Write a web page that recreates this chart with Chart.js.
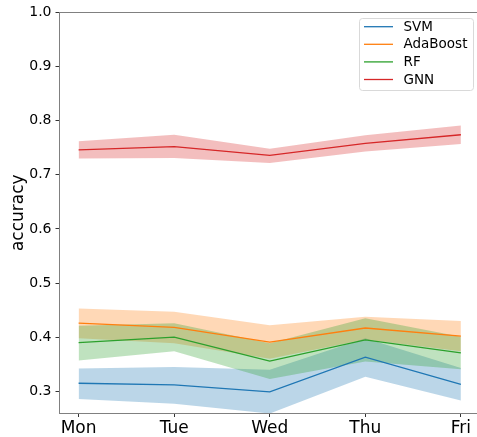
<!DOCTYPE html>
<html>
<head>
<meta charset="utf-8">
<script src="https://cdn.jsdelivr.net/npm/chart.js@4/dist/chart.umd.min.js"></script>
<style>
html,body{margin:0;padding:0;background:#fff;overflow:hidden;}
canvas{display:block;}
</style>
</head>
<body>
<canvas id="c" width="481" height="437"></canvas>
<script>
const days = ['Mon', 'Tue', 'Wed', 'Thu', 'Fri'];
const yTicks = [0.3, 0.4, 0.5, 0.6, 0.7, 0.8, 0.9, 1.0];
const seriesNames = ['SVM', 'AdaBoost', 'RF', 'GNN'];

const svmMean = [0.315, 0.312, 0.299, 0.363, 0.313];
const svmLow  = [0.286, 0.277, 0.259, 0.327, 0.283];
const svmHigh = [0.342, 0.345, 0.340, 0.398, 0.343];

const adaMean = [0.426, 0.418, 0.391, 0.417, 0.402];
const adaLow  = [0.398, 0.389, 0.360, 0.396, 0.374];
const adaHigh = [0.453, 0.447, 0.422, 0.438, 0.430];

const rfMean = [0.390, 0.400, 0.356, 0.395, 0.371];
const rfLow  = [0.357, 0.374, 0.323, 0.355, 0.341];
const rfHigh = [0.421, 0.426, 0.389, 0.435, 0.401];

const gnnMean = [0.746, 0.752, 0.736, 0.758, 0.774];
const gnnLow  = [0.730, 0.731, 0.722, 0.743, 0.757];
const gnnHigh = [0.762, 0.774, 0.748, 0.773, 0.791];

const colors = ['#1f77b4', '#ff7f0e', '#2ca02c', '#d62728'];
const bandColors = ['rgba(31,119,180,0.3)', 'rgba(255,127,14,0.3)', 'rgba(44,160,44,0.3)', 'rgba(214,39,40,0.3)'];
const means = [svmMean, adaMean, rfMean, gnnMean];
const lows = [svmLow, adaLow, rfLow, gnnLow];
const highs = [svmHigh, adaHigh, rfHigh, gnnHigh];

const toPts = arr => arr.map((v, i) => ({x: i, y: v}));

const datasets = [];
seriesNames.forEach((name, s) => {
  const lowIdx = datasets.length;
  datasets.push({
    label: name + ' low', data: toPts(lows[s]), borderColor: 'transparent', borderWidth: 0,
    pointRadius: 0, fill: false, order: 20 - s
  });
  datasets.push({
    label: name + ' high', data: toPts(highs[s]), borderColor: 'transparent', borderWidth: 0,
    pointRadius: 0, fill: {target: lowIdx}, backgroundColor: bandColors[s], order: 20 - s
  });
});
seriesNames.forEach((name, s) => {
  datasets.push({
    label: name, data: toPts(means[s]), borderColor: colors[s], borderWidth: 1.3,
    pointRadius: 0, fill: false, order: 5 - s, tension: 0
  });
});

const legendPlugin = {
  id: 'mplLegend',
  afterDraw(chart) {
    const ctx = chart.ctx;
    const x0 = 359.5, y0 = 18.5, w = 114, h = 72, r = 3;
    ctx.save();
    ctx.beginPath();
    ctx.moveTo(x0 + r, y0);
    ctx.lineTo(x0 + w - r, y0);
    ctx.quadraticCurveTo(x0 + w, y0, x0 + w, y0 + r);
    ctx.lineTo(x0 + w, y0 + h - r);
    ctx.quadraticCurveTo(x0 + w, y0 + h, x0 + w - r, y0 + h);
    ctx.lineTo(x0 + r, y0 + h);
    ctx.quadraticCurveTo(x0, y0 + h, x0, y0 + h - r);
    ctx.lineTo(x0, y0 + r);
    ctx.quadraticCurveTo(x0, y0, x0 + r, y0);
    ctx.closePath();
    ctx.fillStyle = 'rgba(255,255,255,0.8)';
    ctx.fill();
    ctx.strokeStyle = '#d9d9d9';
    ctx.lineWidth = 1;
    ctx.stroke();
    ctx.font = '13.5px "DejaVu Sans"';
    ctx.textBaseline = 'middle';
    ctx.textAlign = 'left';
    seriesNames.forEach((name, s) => {
      const yy = 26.7 + s * 17.6;
      ctx.strokeStyle = colors[s];
      ctx.lineWidth = 1.3;
      ctx.beginPath();
      ctx.moveTo(364, yy);
      ctx.lineTo(393, yy);
      ctx.stroke();
      ctx.fillStyle = '#000';
      ctx.fillText(name, 403.5, yy + 0.5);
    });
    ctx.restore();
  }
};

new Chart(document.getElementById('c'), {
  type: 'line',
  data: {datasets},
  options: {
    responsive: false,
    devicePixelRatio: 1,
    animation: false,
    layout: {padding: {top: 11.5, right: 1, left: 0, bottom: 0}},
    plugins: {
      legend: {display: false},
      tooltip: {enabled: false},
      filler: {propagate: false}
    },
    scales: {
      x: {
        type: 'linear', min: -0.2, max: 4.2,
        afterBuildTicks: sc => { sc.ticks = days.map((d, i) => ({value: i})); },
        afterFit: sc => { sc.height = 24; },
        ticks: {
          callback: v => days[v],
          font: {family: 'DejaVu Sans', size: 17},
          color: '#000', padding: 1, maxRotation: 0, autoSkip: false
        },
        grid: {drawOnChartArea: false, drawTicks: true, tickLength: 4, tickColor: '#333', tickWidth: 1},
        border: {display: true, color: '#808080', width: 1}
      },
      y: {
        type: 'linear', min: 0.26, max: 1.0,
        afterBuildTicks: sc => { sc.ticks = yTicks.map(v => ({value: v})); },
        afterFit: sc => { sc.width = 59.5; },
        ticks: {
          callback: v => v.toFixed(1),
          font: {family: 'DejaVu Sans', size: 14},
          color: '#000', padding: 4
        },
        title: {
          display: true, text: 'accuracy',
          font: {family: 'DejaVu Sans', size: 17},
          color: '#000', padding: {top: 8, bottom: 0}
        },
        grid: {drawOnChartArea: false, drawTicks: true, tickLength: 4, tickColor: '#333', tickWidth: 1},
        border: {display: true, color: '#808080', width: 1}
      }
    }
  },
  plugins: [legendPlugin, {
    id: 'topSpine',
    afterDraw(chart) {
      const a = chart.chartArea, ctx = chart.ctx;
      ctx.save();
      ctx.strokeStyle = '#808080';
      ctx.lineWidth = 1;
      ctx.beginPath();
      ctx.moveTo(a.left, Math.round(a.top) + 0.5);
      ctx.lineTo(a.right, Math.round(a.top) + 0.5);
      ctx.moveTo(Math.round(a.right) - 0.5, a.top);
      ctx.lineTo(Math.round(a.right) - 0.5, a.bottom);
      ctx.stroke();
      ctx.restore();
    }
  }]
});
</script>
</body>
</html>
